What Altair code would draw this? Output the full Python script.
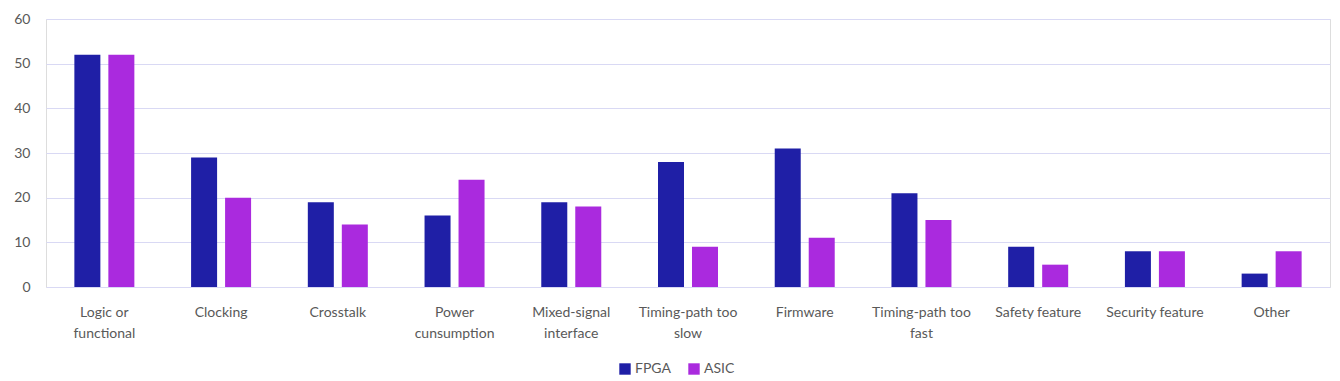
import altair as alt
import pandas as pd

categories = ["Logic or\nfunctional", "Clocking", "Crosstalk", "Power\ncunsumption",
              "Mixed-signal\ninterface", "Timing-path too\nslow", "Firmware",
              "Timing-path too\nfast", "Safety feature", "Security feature", "Other"]
fpga = [52, 29, 19, 16, 19, 28, 31, 21, 9, 8, 3]
asic = [52, 20, 14, 24, 18, 9, 11, 15, 5, 8, 8]
series = ["FPGA", "ASIC"]
colors = ["#1f1fa6", "#aa2ade"]
y_ticks = [0, 10, 20, 30, 40, 50, 60]

rows = []
for c, f, a in zip(categories, fpga, asic):
    rows.append({"cat": c, "series": "FPGA", "value": f})
    rows.append({"cat": c, "series": "ASIC", "value": a})
df = pd.DataFrame(rows)

font = "Lato"
tc = "#595959"

chart = alt.Chart(df).mark_bar().encode(
    x=alt.X("cat:N", sort=categories,
            scale=alt.Scale(paddingInner=0.486, paddingOuter=0.243),
            axis=alt.Axis(title=None, labelAngle=0, domain=False, ticks=False,
                          labelPadding=18, labelFontSize=14, labelColor=tc,
                          labelFont=font, labelLineHeight=21,
                          labelExpr="split(datum.label, '\\n')")),
    xOffset=alt.XOffset("series:N", sort=series,
                        scale=alt.Scale(paddingInner=0.235, paddingOuter=0)),
    y=alt.Y("value:Q", scale=alt.Scale(domain=[0, 60]),
            axis=alt.Axis(title=None, values=y_ticks, domain=False, ticks=False,
                          gridColor="#d9d9f4", gridWidth=1, labelPadding=16,
                          labelFontSize=14, labelColor=tc, labelFont=font)),
    color=alt.Color("series:N", sort=series,
                    scale=alt.Scale(domain=series, range=colors),
                    legend=alt.Legend(title=None, orient="none", direction="horizontal",
                                      legendX=572, legendY=343, symbolType="square",
                                      symbolSize=130, symbolStrokeWidth=0,
                                      labelFontSize=14, labelColor=tc, labelFont=font,
                                      columnPadding=16, labelOffset=3)),
).properties(
    width=1284, height=268,
    autosize=alt.AutoSizeParams(type="none"),
    padding={"left": 38, "top": 11, "right": 2, "bottom": 94},
).configure_view(stroke=None).configure(background="white")

chart.save("out.html", embed_options={"renderer": "svg", "actions": False})
